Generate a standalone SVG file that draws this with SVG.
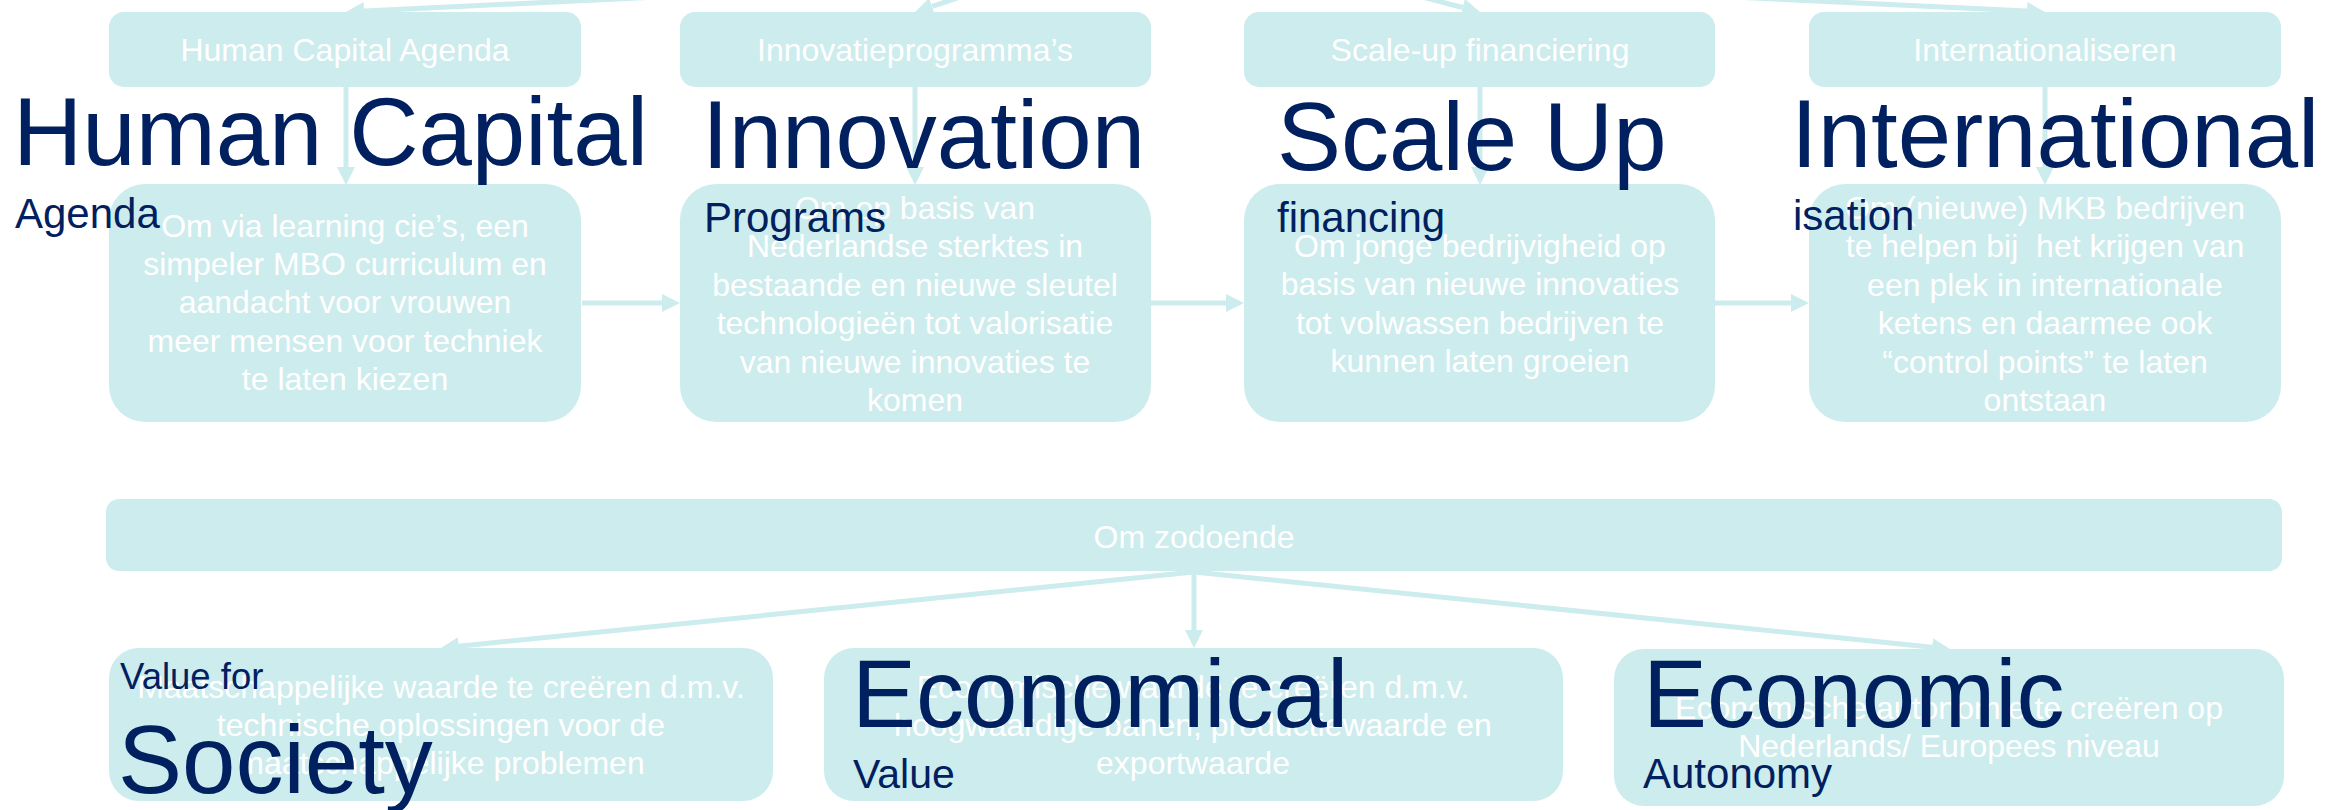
<svg xmlns="http://www.w3.org/2000/svg" width="2343" height="810" viewBox="0 0 2343 810">
<defs>
<style>
.box{fill:#CDECED;}
.wt{font-family:"Liberation Sans",Arial,sans-serif;font-size:32px;fill:#FFFFFF;text-anchor:middle;white-space:pre;}
.big{font-family:"Liberation Sans",Arial,sans-serif;font-size:96px;fill:#002060;}
.sub{font-family:"Liberation Sans",Arial,sans-serif;font-size:42px;fill:#002060;}
.con{fill:none;stroke:#CDECED;stroke-width:5;marker-end:url(#arr);}
</style>
<marker id="arr" viewBox="0 0 18 18" markerWidth="18" markerHeight="18" refX="0" refY="9" markerUnits="userSpaceOnUse" orient="auto">
<path d="M0,0 L18,9 L0,18 z" fill="#CDECED"/>
</marker>
</defs>
<rect width="2343" height="810" fill="#FFFFFF"/>

<g id="connectors">
<path class="con" d="M1221,-30 L364,11.1"/>
<path class="con" d="M1042,-30 L932.1,6.4"/>
<path class="con" d="M1318.5,-30 L1462.6,7.5"/>
<path class="con" d="M1170,-30 L2027,11.1"/>
<path class="con" d="M346,87 L346,167"/>
<path class="con" d="M915,87 L915,167"/>
<path class="con" d="M1480,87 L1480,167"/>
<path class="con" d="M2045,87 L2045,167"/>
<path class="con" d="M582,303 L662,303"/>
<path class="con" d="M1150,303 L1226,303"/>
<path class="con" d="M1715,303 L1791,303"/>
<path class="con" d="M1194,571 L1194,630"/>
<path class="con" d="M1194,572 L458.9,646.2"/>
<path class="con" d="M1194,572 L1932.1,647.2"/>
</g>

<g id="node-hca">
<rect class="box" x="109" y="12" width="472" height="75" rx="15"/>
<text class="wt" x="345" y="61">Human Capital Agenda</text>
</g>
<g id="node-inno">
<rect class="box" x="680" y="12" width="471" height="75" rx="15"/>
<text class="wt" x="915" y="61">Innovatieprogramma’s</text>
</g>
<g id="node-scale">
<rect class="box" x="1244" y="12" width="471" height="75" rx="15"/>
<text class="wt" x="1480" y="61">Scale-up financiering</text>
</g>
<g id="node-intl">
<rect class="box" x="1809" y="12" width="472" height="75" rx="15"/>
<text class="wt" x="2045" y="61">Internationaliseren</text>
</g>

<g id="node-hca-desc">
<rect class="box" x="109" y="184" width="472" height="238" rx="36"/>
<text class="wt" x="345" y="236.5"><tspan x="345">Om via learning cie’s, een</tspan><tspan x="345" dy="38.4">simpeler MBO curriculum en</tspan><tspan x="345" dy="38.4">aandacht voor vrouwen</tspan><tspan x="345" dy="38.4">meer mensen voor techniek</tspan><tspan x="345" dy="38.4">te laten kiezen</tspan></text>
</g>
<g id="node-inno-desc">
<rect class="box" x="680" y="184" width="471" height="238" rx="36"/>
<text class="wt" x="915" y="219"><tspan x="915">Om op basis van</tspan><tspan x="915" dy="38.4">Nederlandse sterktes in</tspan><tspan x="915" dy="38.4">bestaande en nieuwe sleutel</tspan><tspan x="915" dy="38.4">technologieën tot valorisatie</tspan><tspan x="915" dy="38.4">van nieuwe innovaties te</tspan><tspan x="915" dy="38.4">komen</tspan></text>
</g>
<g id="node-scale-desc">
<rect class="box" x="1244" y="184" width="471" height="238" rx="36"/>
<text class="wt" x="1480" y="257"><tspan x="1480">Om jonge bedrijvigheid op</tspan><tspan x="1480" dy="38.4">basis van nieuwe innovaties</tspan><tspan x="1480" dy="38.4">tot volwassen bedrijven te</tspan><tspan x="1480" dy="38.4">kunnen laten groeien</tspan></text>
</g>
<g id="node-intl-desc">
<rect class="box" x="1809" y="184" width="472" height="238" rx="36"/>
<text class="wt" x="2045" y="219"><tspan x="2045">Om (nieuwe) MKB bedrijven</tspan><tspan x="2045" dy="38.4">te helpen bij  het krijgen van</tspan><tspan x="2045" dy="38.4">een plek in internationale</tspan><tspan x="2045" dy="38.4">ketens en daarmee ook</tspan><tspan x="2045" dy="38.4">“control points” te laten</tspan><tspan x="2045" dy="38.4">ontstaan</tspan></text>
</g>

<g id="node-zodoende">
<rect class="box" x="106" y="499" width="2176" height="72" rx="13"/>
<text class="wt" x="1194" y="548">Om zodoende</text>
</g>

<g id="node-society">
<rect class="box" x="109" y="648" width="664" height="153" rx="30"/>
<text class="wt" x="441" y="697.5"><tspan x="441">Maatschappelijke waarde te creëren d.m.v.</tspan><tspan x="441" dy="38.4">technische oplossingen voor de</tspan><tspan x="441" dy="38.4">maatschappelijke problemen</tspan></text>
</g>
<g id="node-economical">
<rect class="box" x="824" y="648" width="739" height="153" rx="30"/>
<text class="wt" x="1193" y="697.5"><tspan x="1193">Economische waarde te creëren d.m.v.</tspan><tspan x="1193" dy="38.4">hoogwaardige banen, productiewaarde en</tspan><tspan x="1193" dy="38.4">exportwaarde</tspan></text>
</g>
<g id="node-autonomy">
<rect class="box" x="1614" y="649" width="670" height="157" rx="30"/>
<text class="wt" x="1949" y="719"><tspan x="1949">Economische autonomie te creëren op</tspan><tspan x="1949" dy="38.4">Nederlands/ Europees niveau</tspan></text>
</g>

<g id="label-human-capital">
<text class="big" x="13" y="165">Human Capital</text>
<text class="sub" x="15" y="228">Agenda</text>
</g>
<g id="label-innovation">
<text class="big" x="702" y="168">Innovation</text>
<text class="sub" x="704" y="232">Programs</text>
</g>
<g id="label-scale-up">
<text class="big" x="1277" y="170">Scale Up</text>
<text class="sub" x="1277" y="232">financing</text>
</g>
<g id="label-international">
<text class="big" x="1791" y="167">International</text>
<text class="sub" x="1793" y="230">isation</text>
</g>
<g id="label-society">
<text class="sub" x="120" y="689" style="font-size:36.5px">Value for</text>
<text class="big" x="118" y="793">Society</text>
</g>
<g id="label-economical">
<text class="big" x="852" y="727">Economical</text>
<text class="sub" x="853" y="788" style="font-size:41px">Value</text>
</g>
<g id="label-autonomy">
<text class="big" x="1643" y="727">Economic</text>
<text class="sub" x="1643" y="788">Autonomy</text>
</g>
</svg>
